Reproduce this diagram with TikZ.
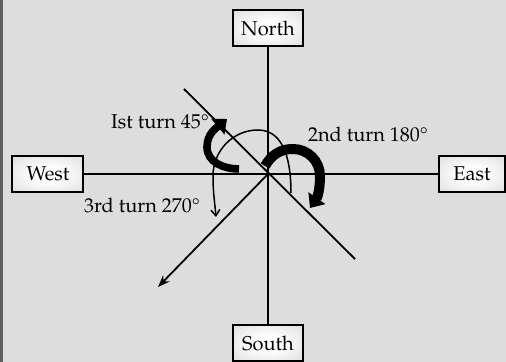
\documentclass[tikz,border=0pt]{standalone}
\usepackage[T1]{fontenc}
\usepackage{mathpazo}
\usepackage{textcomp}
\usetikzlibrary{arrows.meta}
\definecolor{bggrey}{RGB}{221,221,221}
\definecolor{stripgrey}{RGB}{96,96,96}
\definecolor{boxedge}{RGB}{205,205,205}
\pgfdeclareradialshading{boxglow}{\pgfpoint{0bp}{0bp}}{color(0bp)=(white); color(12bp)=(white!94!boxedge); color(50bp)=(boxedge)}
\tikzset{
  dirbox/.style={rectangle, draw=black, line width=1pt, shading=boxglow, minimum height=18pt, inner sep=2pt},
  axis/.style={line width=0.9pt, draw=black},
  turnlbl/.style={anchor=base, inner sep=0pt},
  ray/.style={line width=0.9pt, -{Stealth[length=6pt,width=4.5pt]}},
  thinturn/.style={line width=0.75pt, -{Straight Barb[length=3pt,width=4.5pt]}},
  thickturn/.style={line width=#1, -{Triangle[length=6pt,width=10pt]}},
}
\begin{document}
\begin{tikzpicture}[x=0.5pt,y=0.5pt]
  % background and left strip
  \fill[bggrey] (-268,-188) rectangle (238,174);
  \fill[stripgrey] (-268,-188) rectangle (-265,174);
  \useasboundingbox (-268,-188) rectangle (238,174);
  % compass boxes
  \node[dirbox,minimum width=35pt] (north) at (0,146)    {North};
  \node[dirbox,minimum width=35pt] (south) at (0,-169)   {South};
  \node[dirbox,minimum width=35.5pt] (west) at (-220,0)  {West};
  \node[dirbox,minimum width=33pt] (east) at (204,0)     {East};
  \coordinate (o) at (0,0);
  \coordinate (nw) at (-84,85);
  \coordinate (se) at (87,-85);
  \coordinate (sw) at (-110,-113);
  \draw[axis] (north) -- (south);
  \draw[axis] (west) -- (east);
  \draw[axis] (nw) -- (se);
  \draw[ray] (o) -- (sw);
  % turns
  \coordinate (t1a) at (-29,5);
  \coordinate (t1b) at (-61,27);
  \coordinate (t1c) at (-41,55);
  \draw[thickturn=3.8pt] (t1a) to[out=180,in=-90] (t1b) to[out=90,in=-140] (t1c);
  \coordinate (t2a) at (-3,8);
  \coordinate (t2b) at (25,25);
  \coordinate (t2c) at (52,-2);
  \coordinate (t2d) at (42,-34);
  \draw[thickturn=5pt] (t2a) to[out=60,in=180] (t2b) to[out=0,in=90] (t2c) to[out=-90,in=55] (t2d);
  \coordinate (t3a) at (23,-19);
  \coordinate (t3b) at (-10,44);
  \coordinate (t3c) at (-55,-2);
  \coordinate (t3d) at (-52,-43);
  \draw[thinturn] (t3a) to[out=90,in=0] (t3b) to[out=180,in=90] (t3c) to[out=-90,in=95] (t3d);
  % labels
  \node[turnlbl] (first) at (-108,45)   {Ist turn 45\textdegree};
  \node[turnlbl] (second) at (100,32)   {2nd turn 180\textdegree};
  \node[turnlbl] (third) at (-126,-39)  {3rd turn 270\textdegree};
\end{tikzpicture}
\end{document}
